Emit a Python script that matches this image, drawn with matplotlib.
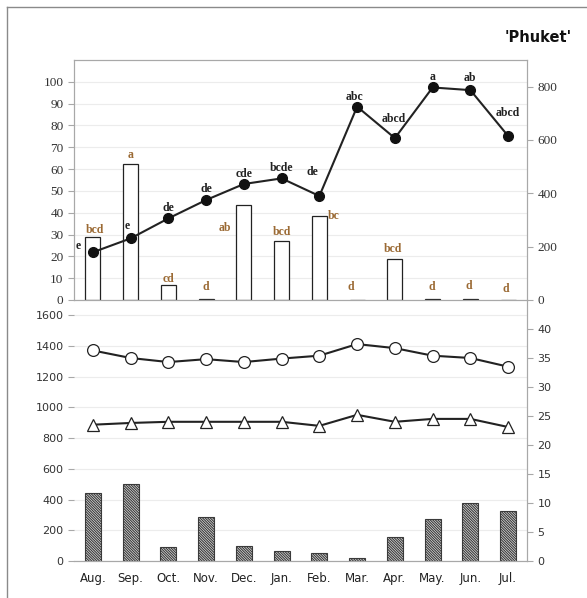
import matplotlib
matplotlib.use('Agg')
import matplotlib.pyplot as plt
from matplotlib.lines import Line2D
import numpy as np

# data
months = ['Aug.', 'Sep.', 'Oct.', 'Nov.', 'Dec.', 'Jan.', 'Feb.', 'Mar.', 'Apr.', 'May.', 'Jun.', 'Jul.']
top_bars = [29, 62.5, 7, 0.3, 43.5, 27, 38.5, 0, 19, 0.5, 0.3, 0]
top_line = [179, 231, 306, 375, 435, 456, 390, 725, 607, 797, 787, 615]
bar_letters = ['bcd', 'a', 'cd', 'd', 'ab', 'bcd', 'bc', 'd', 'bcd', 'd', 'd', 'd']
line_letters = ['e', 'e', 'de', 'de', 'cde', 'bcde', 'de', 'abc', 'abcd', 'a', 'ab', 'abcd']
rain = [442, 499, 91, 284, 100, 65, 54, 20, 156, 273, 379, 325]
t_max = [36.3, 35.0, 34.3, 34.8, 34.3, 34.9, 35.4, 37.4, 36.7, 35.4, 35.0, 33.5]
t_min = [23.5, 23.8, 24.0, 24.0, 24.0, 24.0, 23.3, 25.2, 24.0, 24.5, 24.5, 23.1]

# label offsets in pixels (dx, dy up)
bar_off = [(2, 7), (0, 9), (0, 6), (0, 12), (-19, -23), (0, 9), (14, 0), (-6, 13), (-2, 10), (-1, 12), (-2, 13), (-2, 11)]
line_off = [(-15, 6), (-3, 12), (0, 10), (0, 11), (0, 10), (0, 10), (-7, 24), (-3, 10), (-1, 19), (0, 10), (0, 12), (0, 23)]

brown = '#9b6a34'
spine = '#a8a8a8'
grid = '#ececec'
px = 0.72
x = np.arange(len(months))

fig = plt.figure(figsize=(5.87, 5.98), dpi=100)
fig.add_artist(Line2D([7/587, 7/587], [0, 1-7/598], transform=fig.transFigure, color='#8a8a8a', lw=1))
fig.add_artist(Line2D([7/587, 1], [1-7/598, 1-7/598], transform=fig.transFigure, color='#8a8a8a', lw=1))

# top panel
ax1 = fig.add_axes([74/587, 1-300/598, 453/587, 240/598])
ax1.bar(x, top_bars, width=0.4, color='white', edgecolor='#222222', linewidth=0.9, zorder=2)
ax1.set_xlim(-0.5, 11.5)
ax1.set_ylim(0, 110)
ax1.set_yticks(range(0, 101, 10))
ax1.set_xticks([])
ax1.yaxis.grid(True, color=grid, lw=0.8)
ax1.set_axisbelow(True)
for s in ax1.spines.values():
    s.set_color(spine)
ax1.tick_params(axis='y', colors=spine, labelcolor='#333333', length=4, width=0.8)
for lab in ax1.get_yticklabels():
    lab.set_fontfamily('Liberation Serif')
    lab.set_fontsize(9.5)
for i, v in enumerate(top_bars):
    ax1.annotate(bar_letters[i], (x[i], v), xytext=(bar_off[i][0]*px, bar_off[i][1]*px),
                 textcoords='offset points', ha='center', va='center', color=brown,
                 fontfamily='Liberation Serif', fontweight='bold', fontsize=8.5)

ax1r = ax1.twinx()
ax1r.plot(x, top_line, color='#222222', lw=1.5, marker='o', ms=7, mfc='#111111', mec='#111111', zorder=3)
ax1r.set_ylim(0, 900)
ax1r.set_yticks(range(0, 801, 200))
for s in ax1r.spines.values():
    s.set_color(spine)
ax1r.tick_params(axis='y', colors=spine, labelcolor='#333333', length=4, width=0.8)
for lab in ax1r.get_yticklabels():
    lab.set_fontfamily('Liberation Serif')
    lab.set_fontsize(9.5)
for i, v in enumerate(top_line):
    ax1r.annotate(line_letters[i], (x[i], v), xytext=(line_off[i][0]*px, line_off[i][1]*px),
                  textcoords='offset points', ha='center', va='center', color='#222222',
                  fontfamily='Liberation Serif', fontweight='bold', fontsize=8.5)

# bottom panel
ax2 = fig.add_axes([74/587, 1-561/598, 453/587, 261/598])
plt.rcParams['hatch.linewidth'] = 0.8
ax2.bar(x, rain, width=0.42, color='#e4e4e4', edgecolor='#3a3a3a', hatch='\\' * 13, linewidth=0.8, zorder=2)
ax2.set_xlim(-0.5, 11.5)
ax2.set_ylim(0, 1700)
ax2.set_yticks(range(0, 1601, 200))
ax2.set_xticks(x)
ax2.set_xticklabels(months)
ax2.yaxis.grid(True, color=grid, lw=0.8)
ax2.set_axisbelow(True)
ax2.patch.set_alpha(0)
ax2.spines['top'].set_visible(False)
ax2.spines['left'].set_visible(False)
ax2.spines['bottom'].set_color(spine)
ax2.spines['right'].set_color(spine)
ax2.tick_params(axis='y', colors=spine, labelcolor='#333333', length=4, width=0.8, labelsize=8)
ax2.tick_params(axis='x', length=0, labelcolor='#222222', labelsize=8.5, pad=8)

ax2r = ax2.twinx()
ax2r.plot(x, t_max, color='#222222', lw=1.5, marker='o', ms=8.5, mfc='white', mec='#222222', mew=0.9, zorder=3)
ax2r.plot(x, t_min, color='#222222', lw=1.5, marker='^', ms=8.5, mfc='white', mec='#222222', mew=0.9, zorder=3)
ax2r.set_ylim(0, 45)
ax2r.set_yticks(range(0, 41, 5))
ax2r.spines['top'].set_visible(False)
ax2r.spines['left'].set_visible(False)
ax2r.spines['bottom'].set_color(spine)
ax2r.spines['right'].set_color(spine)
ax2r.tick_params(axis='y', colors=spine, labelcolor='#333333', length=4, width=0.8, labelsize=8)

fig.text(572/587, 1-37/598, "'Phuket'", ha='right', va='center', fontsize=10.5,
         fontweight='bold', color='#111111', fontfamily='DejaVu Sans')

plt.savefig('out.png', dpi=100)
